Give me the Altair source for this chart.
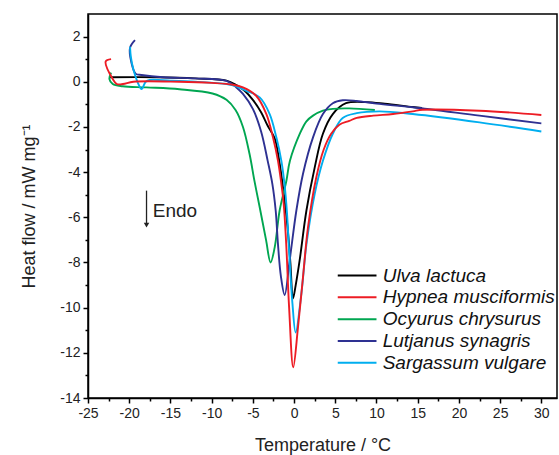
import altair as alt
import pandas as pd

# ---- data ----
names = ["Ulva lactuca", "Hypnea musciformis", "Ocyurus chrysurus",
         "Lutjanus synagris", "Sargassum vulgare"]
colors = ["#000000", "#ed1c24", "#00a651", "#2e3192", "#00aeef"]

ulva_x = [-22.4, -16.7, -12.0, -8.2, -7.0, -6.0, -5.0, -4.0, -3.2, -2.35, -1.8,
          -1.3, -0.8, -0.45, -0.13, 0.2, 0.68, 1.5, 2.5, 3.5, 4.7, 6.3, 8.8,
          11.0, 14.4, 15.5]
ulva_y = [0.2, 0.2, 0.15, 0.05, -0.15, -0.4, -0.8, -1.35, -1.95, -2.5, -3.5,
          -4.8, -6.4, -8.0, -9.6, -9.0, -7.9, -5.7, -3.8, -2.3, -1.43, -0.95,
          -0.9, -0.97, -1.12, -1.16]

hyp_x = [-22.2, -22.85, -22.0, -21.5, -20.75, -19.5, -13.9, -10.0, -7.4, -6.2,
         -4.6, -3.36, -2.56, -1.95, -1.54, -1.26, -0.95, -0.6, -0.1, 0.47,
         1.08, 1.69, 2.7, 3.6, 4.5, 5.5, 6.7, 7.6, 9.6, 12.0, 14.4, 15.6,
         22.5, 30.0]
hyp_y = [1.0, 0.9, 0.12, -0.1, -0.1, 0.0, 0.0, -0.05, -0.13, -0.25, -0.62,
         -1.43, -2.46, -3.5, -4.53, -5.4, -7.2, -10.0, -12.64, -10.9, -8.66,
         -6.45, -4.23, -3.0, -2.3, -1.9, -1.73, -1.6, -1.5, -1.43, -1.31,
         -1.24, -1.28, -1.47]

ocy_x = [-22.2, -22.4, -22.0, -20.8, -17.9, -13.9, -9.9, -8.2, -7.1, -6.2,
         -5.4, -4.8, -4.2, -3.4, -2.85, -2.35, -1.75, -0.93, -0.5, 0.7,
         1.5, 2.3, 3.5, 4.7, 6.7, 9.8]
ocy_y = [0.41, 0.12, -0.1, -0.2, -0.25, -0.33, -0.52, -0.8, -1.25, -2.0,
         -3.2, -4.4, -5.5, -7.0, -8.0, -7.33, -5.7, -4.38, -3.5, -2.3,
         -1.75, -1.5, -1.28, -1.2, -1.18, -1.25]

lut_x = [-19.3, -19.9, -19.7, -19.2, -18.5, -15.9, -12.0, -8.2, -7.0, -6.2,
         -5.0, -4.0, -3.2, -2.63, -2.23, -1.95, -1.6, -1.14, -0.53, 0.28,
         1.08, 2.3, 3.5, 4.7, 5.9, 7.6, 10.0, 14.4, 22.5, 30.0]
lut_y = [1.84, 1.5, 0.8, 0.35, 0.3, 0.2, 0.15, 0.04, -0.25, -0.54, -1.2,
         -2.2, -3.5, -4.53, -5.7, -7.2, -8.6, -9.44, -7.9, -5.7, -4.08, -2.46,
         -1.43, -0.95, -0.82, -0.85, -0.97, -1.13, -1.5, -1.84]

sar_x = [-19.9, -19.8, -19.5, -19.0, -18.5, -18.0, -17.5, -15.0, -12.0, -8.2,
         -7.0, -5.8, -4.17, -2.96, -2.15, -1.54, -1.14, -0.86, -0.6, -0.2,
         0.19, 0.88, 1.5, 2.5, 3.5, 4.7, 5.9, 7.6, 10.4, 14.4, 22.5, 30.0]
sar_y = [1.55, 1.1, 0.55, 0.0, -0.32, 0.0, 0.08, 0.05, 0.0, -0.1, -0.2,
         -0.4, -0.69, -1.43, -2.46, -3.5, -4.6, -5.8, -7.5, -9.8, -11.1,
         -9.4, -7.2, -4.97, -3.5, -2.3, -1.6, -1.39, -1.31, -1.43, -1.8, -2.2]

series_x = [ulva_x, hyp_x, ocy_x, lut_x, sar_x]
series_y = [ulva_y, hyp_y, ocy_y, lut_y, sar_y]

x_ticks = [v / 2 for v in range(-50, 61, 5)]   # -25 .. 30 step 2.5
y_ticks = list(range(-14, 3))                  # -14 .. 2 step 1

# annotation / legend anchor values (data units)
endo_x = [-17.9]
endo_y_top = [-4.82]
endo_y_bot = [-6.35]
endo_text = ["Endo"]
legend_x1, legend_x2, legend_tx = 5.3, 10.0, 10.75
legend_y0, legend_dy = -8.58, -0.965

# ---- build ----
FONT = "Liberation Sans"
xscale = alt.Scale(domain=[-25, 31.9], nice=False, zero=False)
yscale = alt.Scale(domain=[-14, 3], nice=False, zero=False)

xaxis = alt.Axis(values=x_ticks, title="Temperature / °C",
                 labelExpr="datum.value % 5 === 0 ? '' + datum.value : ''",
                 tickSize={"condition": {"test": "datum.value % 5 === 0", "value": 5}, "value": 3},
                 grid=False, domainColor="#000", tickColor="#000", domainWidth=1.5,
                 tickWidth=1.5, labelFont=FONT, labelFontSize=14, labelColor="#222",
                 titleFont=FONT, titleFontSize=18, titleFontWeight="normal",
                 titleColor="#222", labelPadding=3, titlePadding=16,
                 labelFlush=False, labelOverlap=False)
yaxis = alt.Axis(values=y_ticks, title="Heat flow / mW mg⁻¹",
                 labelExpr="datum.value % 2 === 0 ? '' + datum.value : ''",
                 tickSize={"condition": {"test": "datum.value % 2 === 0", "value": 5}, "value": 3},
                 grid=False, domainColor="#000", tickColor="#000", domainWidth=1.5,
                 tickWidth=1.5, labelFont=FONT, labelFontSize=14, labelColor="#222",
                 titleFont=FONT, titleFontSize=18, titleFontWeight="normal",
                 titleColor="#222", labelPadding=3, titlePadding=21,
                 labelFlush=False, labelOverlap=False)


def X(field):
    return alt.X(field, type="quantitative", scale=xscale, axis=xaxis)


def Y(field):
    return alt.Y(field, type="quantitative", scale=yscale, axis=yaxis)


rows = []
for name, xs, ys in zip(names, series_x, series_y):
    for i, (a, b) in enumerate(zip(xs, ys)):
        rows.append({"series": name, "T": a, "H": b, "i": i})
df = pd.DataFrame(rows)

draw_order = ["Ulva lactuca", "Ocyurus chrysurus", "Lutjanus synagris",
              "Sargassum vulgare", "Hypnea musciformis"]
layers = []
for name in draw_order:
    c = colors[names.index(name)]
    ch = alt.Chart(df[df.series == name]).mark_line(
        color=c, strokeWidth=1.9, clip=True, interpolate="catmull-rom"
    ).encode(x=X("T"), y=Y("H"), order="i:Q")
    layers.append(ch)

# Legend (manual)
leg = pd.DataFrame({
    "name": names,
    "color": colors,
    "x1": [legend_x1] * 5,
    "x2": [legend_x2] * 5,
    "tx": [legend_tx] * 5,
    "y": [legend_y0 + legend_dy * k for k in range(5)],
})
leg_lines = alt.Chart(leg).mark_rule(strokeWidth=2).encode(
    x=X("x1"), x2="x2:Q", y=Y("y"),
    color=alt.Color("color:N", scale=None),
)
leg_text = alt.Chart(leg).mark_text(
    align="left", baseline="middle", font=FONT, fontSize=19,
    fontStyle="italic", color="#111"
).encode(x=X("tx"), y=Y("y"), text="name:N")

# Endo arrow
endo = pd.DataFrame({"x": endo_x, "y1": endo_y_top, "y2": endo_y_bot,
                     "tx": [endo_x[0] + 0.75], "ty": [-5.7], "t": endo_text})
arrow_shaft = alt.Chart(endo).mark_rule(strokeWidth=1.3, color="#222").encode(
    x=X("x"), y=Y("y1"), y2="y2:Q")
arrow_head = alt.Chart(endo).mark_point(
    shape="triangle-down", filled=True, size=30, color="#222", opacity=1
).encode(x=X("x"), y=Y("y2"))
endo_txt = alt.Chart(endo).mark_text(
    align="left", baseline="middle", font=FONT, fontSize=19, color="#222"
).encode(x=X("tx"), y=Y("ty"), text="t:N")

chart = alt.layer(*layers, leg_lines, leg_text, arrow_shaft, arrow_head, endo_txt).properties(
    width=469, height=384,
    padding={"left": 88, "top": 14, "right": 2, "bottom": 57},
    autosize="none",
    background="white",
).configure_view(stroke="#000", strokeWidth=1.5)

chart.save("out.html", embed_options={"renderer": "svg", "actions": False})
